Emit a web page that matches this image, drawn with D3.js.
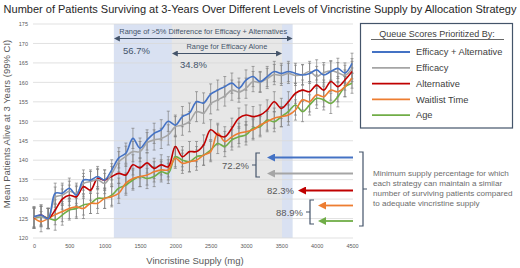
<!DOCTYPE html>
<html><head><meta charset="utf-8">
<script src="https://cdn.jsdelivr.net/npm/d3@7"></script>
<style>
html,body{margin:0;padding:0;background:#fff;}
svg{display:block;font-family:"Liberation Sans",Arial,sans-serif;}
</style></head><body>
<svg id="c" width="520" height="268"></svg>
<script>
const supply = d3.range(0, 4501, 100);
const effAlt = [125.5,125.9,125.0,131.5,131.5,132.8,131.0,134.9,134.9,135.8,134.9,137.5,140.6,141.8,145.6,143.1,145.2,146.9,147.8,150.0,149.0,151.2,152.1,155.0,154.7,157.0,158.0,158.9,159.8,158.5,160.6,161.5,160.2,161.5,162.8,162.3,162.8,162.3,161.9,162.3,163.2,161.9,162.8,163.6,162.4,164.9];
const efficacy = [125.3,125.5,125.0,130.5,131.0,132.0,131.5,134.0,134.5,135.0,134.0,136.5,139.6,141.0,142.2,142.2,144.5,145.2,145.6,146.5,148.6,149.0,149.9,152.5,152.1,154.5,155.5,156.5,158.0,157.5,158.5,160.2,160.0,161.0,162.0,161.8,162.3,161.8,162.0,162.8,161.5,162.5,163.0,162.5,161.8,163.5];
const alternative = [125.1,125.9,125.0,127.2,130.0,131.0,130.6,133.2,132.3,135.3,134.9,135.8,136.6,136.2,138.8,138.0,139.3,137.9,138.8,138.3,143.5,140.9,142.2,142.2,143.9,147.8,146.5,146.0,148.2,150.8,151.6,151.2,151.6,152.9,155.0,153.3,155.0,157.2,158.0,157.6,159.3,158.0,160.2,158.9,160.6,162.8];
const waitlist = [125.1,124.2,125.0,126.0,126.8,127.6,128.0,127.6,128.9,128.9,130.2,130.6,131.5,134.1,135.3,135.8,136.2,137.0,137.5,137.5,140.5,139.2,139.6,140.0,141.3,142.2,146.9,144.8,146.0,146.9,147.3,147.8,149.0,149.9,150.8,151.2,151.6,152.9,155.5,155.0,156.8,156.3,158.0,157.6,158.9,161.1];
const age = [125.1,125.5,125.1,124.6,125.9,127.2,127.6,128.5,128.9,130.2,130.2,131.0,132.8,133.6,134.9,135.8,135.3,135.8,137.0,136.6,140.9,140.0,139.6,140.9,141.3,142.6,144.3,143.5,145.2,146.0,146.5,148.2,148.6,150.3,149.9,151.2,152.5,154.2,152.5,154.2,155.9,155.5,154.6,156.3,158.9,159.8];
const ciHalf = 2.6;
const seriesNames = ["Efficacy + Alternative","Efficacy","Alternative","Waitlist Time","Age"];
const seriesColors = ["#4472c4","#a5a5a5","#c00000","#ed7d31","#70ad47"];
const seriesValues = [effAlt, efficacy, alternative, waitlist, age];
const yTicks = d3.range(120, 176, 5);
const xTicks = d3.range(0, 4501, 500);
const rangeBoth = [1130, 3660];
const rangeEff = [1950, 3510];
const minPct = ["72.2%","82.3%","88.9%"];
const rangePct = ["56.7%","34.8%"];

const svg = d3.select("#c");
const x = d3.scaleLinear().domain([0,4500]).range([34,352]);
const y = d3.scaleLinear().domain([120,175]).range([238,24]);

const defs = svg.append("defs");
function marker(id, color, orient, size){
  defs.append("marker").attr("id",id).attr("viewBox","0 0 10 10").attr("refX",5).attr("refY",5)
    .attr("markerWidth",size).attr("markerHeight",size).attr("orient",orient).attr("markerUnits","userSpaceOnUse")
    .append("path").attr("d","M0,0 L10,5 L0,10 z").attr("fill",color);
}
marker("slateE","#44546a","auto",6);
marker("slateS","#44546a","auto-start-reverse",6);
seriesColors.forEach((c,i)=>marker("arr"+i,c,"auto",8));

svg.append("rect").attr("x",x(rangeBoth[0])).attr("y",y(175)).attr("width",x(rangeBoth[1])-x(rangeBoth[0])).attr("height",y(120)-y(175)).attr("fill","#d9e1f2");
svg.append("rect").attr("x",x(rangeEff[0])).attr("y",y(175)).attr("width",x(rangeEff[1])-x(rangeEff[0])).attr("height",y(120)-y(175)).attr("fill","#e7e7e7");

svg.append("g").selectAll("line").data(yTicks).join("line")
  .attr("x1",33).attr("x2",353).attr("y1",d=>y(d)).attr("y2",d=>y(d))
  .attr("stroke","#d9d9d9").attr("stroke-width",0.8);

const yAx = svg.append("g").attr("transform","translate(33,0)")
  .call(d3.axisLeft(y).tickValues(yTicks).tickSize(0).tickPadding(5));
yAx.select(".domain").remove();
yAx.selectAll("text").attr("font-size",5.5).attr("fill","#595959").attr("font-family","Liberation Sans, Arial");
const xAx = svg.append("g").attr("transform","translate(0,238)")
  .call(d3.axisBottom(x).tickValues(xTicks).tickSize(0).tickPadding(6).tickFormat(d3.format("d")));
xAx.select(".domain").remove();
xAx.selectAll("text").attr("font-size",5.5).attr("fill","#595959").attr("font-family","Liberation Sans, Arial");

const eb = svg.append("g").attr("stroke","#7f7f7f").attr("stroke-width",0.7).attr("fill","none");
seriesValues.forEach(vals=>{
  vals.forEach((v,i)=>{
    const cx = x(supply[i]);
    eb.append("line").attr("x1",cx).attr("x2",cx).attr("y1",y(v-ciHalf)).attr("y2",y(v+ciHalf));
    eb.append("line").attr("x1",cx-1.5).attr("x2",cx+1.5).attr("y1",y(v-ciHalf)).attr("y2",y(v-ciHalf));
    eb.append("line").attr("x1",cx-1.5).attr("x2",cx+1.5).attr("y1",y(v+ciHalf)).attr("y2",y(v+ciHalf));
  });
});

const line = d3.line().x((d,i)=>x(supply[i])).y(d=>y(d)).curve(d3.curveCatmullRom.alpha(0.5));
[4,3,2,1,0].forEach(k=>{
  svg.append("path").attr("d",line(seriesValues[k])).attr("fill","none")
    .attr("stroke",seriesColors[k]).attr("stroke-width",1.6);
});

svg.append("text").attr("x",260).attr("y",13).attr("text-anchor","middle").attr("font-size",11)
  .attr("fill","#262626").text("Number of Patients Surviving at 3-Years Over Different Levels of Vincristine Supply by Allocation Strategy");

svg.append("text").attr("transform","translate(10,124) rotate(-90)").attr("text-anchor","middle")
  .attr("font-size",9.5).attr("fill","#595959").text("Mean Patients Alive at 3 Years (99% CI)");
svg.append("text").attr("x",195).attr("y",264).attr("text-anchor","middle")
  .attr("font-size",9.5).attr("fill","#595959").text("Vincristine Supply (mg)");

const slate = "#44546a";
svg.append("text").attr("x",(x(rangeBoth[0])+x(rangeBoth[1]))/2).attr("y",34).attr("text-anchor","middle")
  .attr("font-size",7.4).attr("fill",slate).text("Range of >5% Difference for Efficacy + Alternatives");
svg.append("line").attr("x1",x(rangeBoth[0])+3).attr("x2",x(rangeBoth[1])-3).attr("y1",38.5).attr("y2",38.5)
  .attr("stroke",slate).attr("stroke-width",1).attr("marker-start","url(#slateS)").attr("marker-end","url(#slateE)");
svg.append("text").attr("x",123).attr("y",54).attr("font-size",9.5).attr("fill","#44546a").text(rangePct[0]);
svg.append("text").attr("x",(x(rangeEff[0])+x(rangeEff[1]))/2).attr("y",49).attr("text-anchor","middle")
  .attr("font-size",7.4).attr("fill",slate).text("Range for Efficacy Alone");
svg.append("line").attr("x1",x(rangeEff[0])+3).attr("x2",x(rangeEff[1])-3).attr("y1",53.5).attr("y2",53.5)
  .attr("stroke",slate).attr("stroke-width",1).attr("marker-start","url(#slateS)").attr("marker-end","url(#slateE)");
svg.append("text").attr("x",180).attr("y",68).attr("font-size",9.5).attr("fill","#44546a").text(rangePct[1]);

const arrowRows = [
  {k:0, yy:157.5, x0:267},
  {k:1, yy:173.5, x0:267},
  {k:2, yy:190.5, x0:298},
  {k:3, yy:205.5, x0:318},
  {k:4, yy:221, x0:318}
];
arrowRows.forEach(r=>{
  svg.append("line").attr("x1",353).attr("x2",r.x0+4).attr("y1",r.yy).attr("y2",r.yy)
    .attr("stroke",seriesColors[r.k]).attr("stroke-width",1.8).attr("marker-end","url(#arr"+r.k+")");
});

function leftBracket(bx, y0, y1){
  const ym=(y0+y1)/2;
  svg.append("path").attr("d",`M${bx+4},${y0} L${bx},${y0} L${bx},${y1} L${bx+4},${y1} M${bx},${ym} L${bx-4},${ym}`)
    .attr("fill","none").attr("stroke",slate).attr("stroke-width",1.2);
}
leftBracket(256,153,177);
leftBracket(310,200,224);
svg.append("path").attr("d","M359,152 L363,152 L363,226 L359,226 M363,189 L367,189")
  .attr("fill","none").attr("stroke",slate).attr("stroke-width",1.2);
svg.append("text").attr("x",249).attr("y",169).attr("text-anchor","end").attr("font-size",9.5).attr("fill","#595959").text(minPct[0]);
svg.append("text").attr("x",294).attr("y",194).attr("text-anchor","end").attr("font-size",9.5).attr("fill","#595959").text(minPct[1]);
svg.append("text").attr("x",303).attr("y",216).attr("text-anchor","end").attr("font-size",9.5).attr("fill","#595959").text(minPct[2]);

const note = ["Minimum supply percentage for which","each strategy can maintain a similar","number of surviving patients compared","to adequate vincristine supply"];
svg.append("g").selectAll("text").data(note).join("text").attr("x",373).attr("y",(d,i)=>176+i*10)
  .attr("font-size",8.1).attr("fill","#6d6d6d").text(d=>d);

svg.append("rect").attr("x",360.5).attr("y",23.5).attr("width",152).attr("height",104.5)
  .attr("fill","#fff").attr("stroke","#44546a").attr("stroke-width",1.2);
svg.append("text").attr("x",437).attr("y",37).attr("text-anchor","middle").attr("font-size",9).attr("fill","#404040")
  .text("Queue Scores Prioritized By:");
svg.append("line").attr("x1",371).attr("x2",504).attr("y1",39.5).attr("y2",39.5).attr("stroke","#404040").attr("stroke-width",0.8);
seriesNames.forEach((n,i)=>{
  const yy = 52 + i*15.8;
  svg.append("line").attr("x1",372).attr("x2",410).attr("y1",yy).attr("y2",yy).attr("stroke",seriesColors[i]).attr("stroke-width",1.8);
  svg.append("text").attr("x",416).attr("y",yy+3.2).attr("font-size",9.3).attr("fill","#404040").text(n);
});
</script>
</body></html>
